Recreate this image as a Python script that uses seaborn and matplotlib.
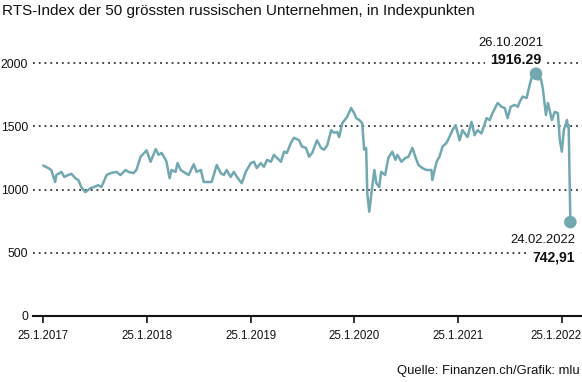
import matplotlib
matplotlib.use("Agg")
import matplotlib.pyplot as plt
import matplotlib.transforms as mtrans
import seaborn as sns
import pandas as pd

# ---------------- data ----------------
dates = [
    "2017-01-25", "2017-02-12", "2017-02-22", "2017-03-08", "2017-03-12", "2017-03-30", "2017-04-09",
    "2017-04-23", "2017-05-04", "2017-05-18", "2017-05-29", "2017-06-08", "2017-06-22", "2017-07-10",
    "2017-07-21", "2017-08-07", "2017-08-18", "2017-09-05", "2017-09-19", "2017-10-10", "2017-10-24",
    "2017-11-11", "2017-11-21", "2017-12-09", "2017-12-19",
    "2018-01-03", "2018-01-24", "2018-02-07", "2018-02-25", "2018-03-07", "2018-03-18", "2018-04-01",
    "2018-04-04", "2018-04-15", "2018-04-22", "2018-05-06", "2018-05-13", "2018-05-24", "2018-06-03",
    "2018-06-21", "2018-07-09", "2018-07-19", "2018-08-03", "2018-08-13", "2018-08-31", "2018-09-10",
    "2018-09-28", "2018-10-12", "2018-10-23", "2018-11-02", "2018-11-16", "2018-11-27", "2018-12-08",
    "2018-12-25",
    "2019-01-08", "2019-01-26", "2019-02-06", "2019-02-16", "2019-03-02", "2019-03-13", "2019-03-24",
    "2019-04-07", "2019-04-17", "2019-04-28", "2019-05-12", "2019-05-23", "2019-06-02", "2019-06-16",
    "2019-06-27", "2019-07-15", "2019-07-25", "2019-08-08", "2019-08-19", "2019-08-30", "2019-09-16",
    "2019-09-30", "2019-10-11", "2019-10-22", "2019-11-05", "2019-11-15", "2019-11-26", "2019-12-03",
    "2019-12-14", "2019-12-31",
    "2020-01-14", "2020-01-25", "2020-02-01", "2020-02-12", "2020-02-22", "2020-02-29", "2020-03-07",
    "2020-03-11", "2020-03-18", "2020-03-28", "2020-04-05", "2020-04-12", "2020-04-22", "2020-04-29",
    "2020-05-13", "2020-05-24", "2020-06-07", "2020-06-18", "2020-06-25", "2020-07-09", "2020-07-23",
    "2020-08-03", "2020-08-17", "2020-08-27", "2020-09-07", "2020-09-21", "2020-10-05", "2020-10-23",
    "2020-10-26", "2020-11-10", "2020-11-20", "2020-12-01", "2020-12-15", "2020-12-25",
    "2021-01-05", "2021-01-16", "2021-01-30", "2021-02-09", "2021-02-27", "2021-03-13", "2021-03-24",
    "2021-04-03", "2021-04-17", "2021-05-05", "2021-05-16", "2021-05-26", "2021-06-13", "2021-06-27",
    "2021-07-08", "2021-07-18", "2021-07-29", "2021-08-12", "2021-08-23", "2021-08-30", "2021-09-09",
    "2021-09-23", "2021-10-04", "2021-10-11", "2021-10-26", "2021-11-01", "2021-11-12", "2021-11-19",
    "2021-11-30", "2021-12-07", "2021-12-21", "2021-12-31",
    "2022-01-11", "2022-01-18", "2022-01-25", "2022-02-01", "2022-02-12", "2022-02-15", "2022-02-18",
    "2022-02-24",
]
values = [
    1190, 1170, 1155, 1060, 1115, 1140, 1100, 1115, 1125, 1090, 1075, 1020, 980, 1010, 1020, 1035,
    1020, 1115, 1130, 1140, 1115, 1155, 1140, 1130, 1155,
    1260, 1310, 1220, 1320, 1275, 1290, 1235, 1220, 1090, 1155, 1140, 1210, 1155, 1140, 1115, 1200,
    1140, 1155, 1060, 1060, 1060, 1195, 1130, 1115, 1155, 1100, 1140, 1100, 1050,
    1140, 1210, 1220, 1170, 1210, 1180, 1235, 1220, 1275, 1250, 1220, 1300, 1290, 1370, 1410, 1390,
    1340, 1330, 1260, 1290, 1390, 1330, 1315, 1350, 1470, 1450, 1455, 1415, 1525, 1575,
    1645, 1605, 1565, 1550, 1525, 1315, 1330, 970, 825, 1015, 1155, 1050, 1020, 1140, 1115, 1250,
    1300, 1235, 1275, 1220, 1250, 1260, 1330, 1260, 1195, 1170, 1155, 1155, 1075, 1220, 1260, 1340,
    1370, 1415,
    1470, 1510, 1390, 1470, 1415, 1535, 1430, 1470, 1445, 1565, 1550, 1605, 1685, 1655, 1645, 1565,
    1655, 1670, 1655, 1695, 1735, 1725, 1830, 1890, 1916.29, 1870, 1880, 1800, 1590, 1685, 1550, 1615,
    1605, 1390, 1300, 1470, 1550, 1495, 1510, 742.91,
]
tick_dates = ["2017-01-25", "2018-01-25", "2019-01-25", "2020-01-25", "2021-01-25", "2022-01-25"]
tick_labels = ["25.1.2017", "25.1.2018", "25.1.2019", "25.1.2020", "25.1.2021", "25.1.2022"]
y_ticks = [0, 500, 1000, 1500, 2000]
y_tick_labels = ["0", "500", "1000", "1500", "2000"]
title = "RTS-Index der 50 grössten russischen Unternehmen, in Indexpunkten"
source = "Quelle: Finanzen.ch/Grafik: mlu"
peak_date_label = "26.10.2021"
peak_value_label = "1916.29"
last_date_label = "24.02.2022"
last_value_label = "742,91"

# ---------------- style ----------------
sns.set_theme(style="white")
plt.rcParams["font.family"] = ["Liberation Sans", "DejaVu Sans"]

LINE = "#72a8b0"
INK = "#111111"
W, H = 582, 382

df = pd.DataFrame({"date": pd.to_datetime(dates), "value": values})

fig = plt.figure(figsize=(W / 100, H / 100), dpi=100)
ax = fig.add_axes([33 / W, 66 / H, (W - 33) / W, 271.8 / H])

sns.lineplot(data=df, x="date", y="value", ax=ax, color=LINE, linewidth=1.8, zorder=3)

i_max = df["value"].idxmax()
i_last = df.index[-1]
hi = df.loc[[i_max, i_last]]
sns.scatterplot(data=hi, x="date", y="value", ax=ax, color=LINE, s=82, marker="o",
                edgecolor="none", zorder=6, legend=False)

ax.set_xlim(pd.Timestamp("2016-12-20"), pd.Timestamp("2022-04-06"))
ax.set_ylim(0, 2150)

ax.set_xticks(pd.to_datetime(tick_dates))
ax.set_xticklabels(tick_labels, fontsize=8.3, color=INK)
ax.set_yticks(y_ticks)
ax.set_yticklabels(y_tick_labels, fontsize=8.8, color=INK)
ax.tick_params(axis="x", length=5, width=1.2, color=INK, pad=5, direction="out", bottom=True)
ax.tick_params(axis="y", length=0, pad=3.5)
ax.set_xlabel("")
ax.set_ylabel("")

# last date label sits slightly left of its tick, as in the original
lbl = ax.get_xticklabels()[-1]
lbl.set_transform(lbl.get_transform() + mtrans.ScaledTranslation(-6 / 100, 0, fig.dpi_scale_trans))

for s in ["top", "right", "left"]:
    ax.spines[s].set_visible(False)
ax.spines["bottom"].set_color(INK)
ax.spines["bottom"].set_linewidth(1.5)
ax.spines["bottom"].set_zorder(5)

ax.yaxis.grid(True, linestyle=(0, (1, 2.2)), color="#333333", linewidth=1.3)
ax.xaxis.grid(False)
ax.set_axisbelow(True)

# annotations
pk = df.loc[i_max]
ls = df.loc[i_last]
ax.annotate(peak_date_label, xy=(pk["date"], pk["value"]), xytext=(7, 31),
            textcoords="offset pixels", ha="right", va="center", fontsize=9.4,
            color=INK, zorder=4)
ax.annotate(peak_value_label, xy=(pk["date"], pk["value"]), xytext=(5, 14),
            textcoords="offset pixels", ha="right", va="center", fontsize=10.2,
            fontweight="bold", color=INK, zorder=4,
            bbox=dict(facecolor="white", edgecolor="none", pad=3.5))
ax.annotate(last_date_label, xy=(ls["date"], ls["value"]), xytext=(5, -18),
            textcoords="offset pixels", ha="right", va="center", fontsize=9.4,
            color=INK, zorder=4)
ax.annotate(last_value_label, xy=(ls["date"], ls["value"]), xytext=(5, -35),
            textcoords="offset pixels", ha="right", va="center", fontsize=10.0,
            fontweight="bold", color=INK, zorder=4,
            bbox=dict(facecolor="white", edgecolor="none", pad=4))

fig.text(2 / W, 1 - 15.5 / H, title, ha="left", va="baseline", fontsize=11, color=INK)
fig.text(580 / W, 1 - 374 / H, source, ha="right", va="baseline", fontsize=9.4, color=INK)

fig.savefig("out.png", dpi=100, facecolor="white")
